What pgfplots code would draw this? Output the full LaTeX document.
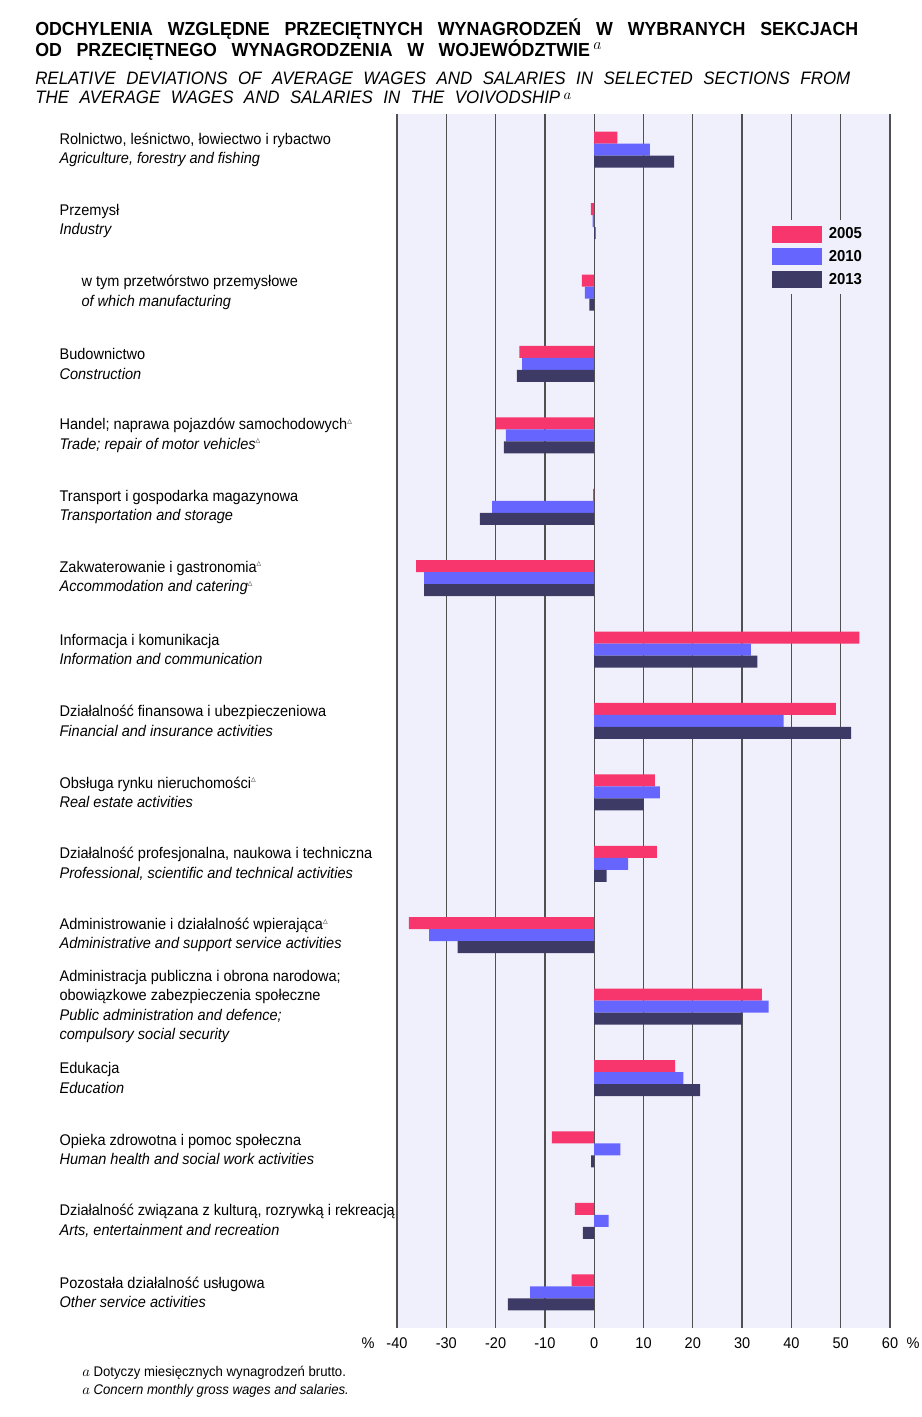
\documentclass[border=0pt]{standalone}
\usepackage{fontspec}
\setmainfont{Liberation Sans}[FakeStretch=0.94]
\newfontfamily\symfont{DejaVu Sans}
\usepackage{pgfplots}
\pgfplotsset{compat=1.18}
\usepackage{pgfplotstable}

\definecolor{c2005}{RGB}{247,54,110}
\definecolor{c2010}{RGB}{102,102,255}
\definecolor{c2013}{RGB}{61,59,102}
\definecolor{bgcol}{RGB}{240,240,252}
\definecolor{gridcol}{RGB}{80,80,80}

\newcommand\tri{\raisebox{0.8ex}{\symfont\fontsize{4.5}{5}\selectfont △}}
\newcommand\lab{\fontsize{11.6}{14.5}\selectfont}
\newcommand\supa[2]{\hspace{2.5pt}\raisebox{#1}{\fontsize{#2}{#2}\selectfont$a$}}

% pos: 16 = top category
\pgfplotstableread{
pos  y2005  y2010  y2013
16     4.7   11.3   16.2
15    -0.7   -0.3    0.3
14    -2.5   -1.9   -1.0
13   -15.2  -14.6  -15.7
12   -20.0  -17.9  -18.3
11    -0.2  -20.7  -23.2
10   -36.1  -34.5  -34.5
9     53.8   31.8   33.1
8     49.0   38.4   52.1
7     12.3   13.3   10.0
6     12.7    6.9    2.5
5    -37.6  -33.5  -27.7
4     34.0   35.4   30.0
3     16.4   18.1   21.5
2     -8.6    5.3   -0.6
1     -3.9    2.9   -2.3
0     -4.6  -13.0  -17.5
}\deviations

\begin{document}
\begin{tikzpicture}[x=1pt,y=1pt]
\useasboundingbox (0,0) rectangle (690.75,1062.75);

% titles
\node[anchor=base west, inner sep=0pt, font=\bfseries\fontsize{14.2}{16}\selectfont]
  at (26.25,1036) {\makebox[617.25pt][s]{ODCHYLENIA WZGLĘDNE PRZECIĘTNYCH WYNAGRODZEŃ W WYBRANYCH SEKCJACH}};
\node[anchor=base west, inner sep=0pt, font=\bfseries\fontsize{14.2}{16}\selectfont]
  at (26.25,1020.5) {\makebox[416pt][s]{OD PRZECIĘTNEGO WYNAGRODZENIA W WOJEWÓDZTWIE}\supa{4.8pt}{12}};
\node[anchor=base west, inner sep=0pt, font=\itshape\fontsize{13.5}{16}\selectfont]
  at (26.25,999) {\makebox[611.25pt][s]{RELATIVE DEVIATIONS OF AVERAGE WAGES AND SALARIES IN SELECTED SECTIONS FROM}};
\node[anchor=base west, inner sep=0pt, font=\itshape\fontsize{13.5}{16}\selectfont]
  at (26.25,985.3) {\makebox[393.75pt][s]{THE AVERAGE WAGES AND SALARIES IN THE VOIVODSHIP}\supa{2.8pt}{10.5}};

\begin{axis}[
  at={(297.75pt,66.75pt)}, anchor=south west,
  scale only axis, width=369.75pt, height=910.5pt,
  xmin=-40, xmax=60, ymin=-0.5, ymax=16.5,
  axis background/.style={fill=bgcol},
  axis line style={draw=none},
  tick style={draw=none},
  xbar, bar width=9pt,
  xtick={-40,-30,...,60},
  xticklabels={-40,-30,-20,-10,0,10,20,30,40,50,60},
  xmajorgrids, major grid style={gridcol, line width=1pt},
  xticklabel style={font=\lab, inner sep=0pt, anchor=north, yshift=-7.1pt},
  ytick={0,...,16},
  yticklabels={
    {Pozostała działalność usługowa\\\textit{Other service activities}},
    {Działalność związana z kulturą, rozrywką i rekreacją\\\textit{Arts, entertainment and recreation}},
    {Opieka zdrowotna i pomoc społeczna\\\textit{Human health and social work activities}},
    {Edukacja\\\textit{Education}},
    {Administracja publiczna i obrona narodowa;\\obowiązkowe zabezpieczenia społeczne\\\textit{Public administration and defence;}\\\textit{compulsory social security}},
    {Administrowanie i działalność wpierająca\tri\\\textit{Administrative and support service activities}},
    {Działalność profesjonalna, naukowa i techniczna\\\textit{Professional, scientific and technical activities}},
    {Obsługa rynku nieruchomości\tri\\\textit{Real estate activities}},
    {Działalność finansowa i ubezpieczeniowa\\\textit{Financial and insurance activities}},
    {Informacja i komunikacja\\\textit{Information and communication}},
    {Zakwaterowanie i gastronomia\tri\\\textit{Accommodation and catering\tri}},
    {Transport i gospodarka magazynowa\\\textit{Transportation and storage}},
    {Handel; naprawa pojazdów samochodowych\tri\\\textit{Trade; repair of motor vehicles\tri}},
    {Budownictwo\\\textit{Construction}},
    {\hspace*{16.5pt}w tym przetwórstwo przemysłowe\\\hspace*{16.5pt}\textit{of which manufacturing}},
    {Przemysł\\\textit{Industry}},
    {Rolnictwo, leśnictwo, łowiectwo i rybactwo\\\textit{Agriculture, forestry and fishing}}
  },
  yticklabel style={font=\lab, anchor=west, align=left, inner sep=0pt, xshift=-249pt},
  legend style={at={(0.7485,0.9127)}, anchor=north west, draw=none, fill=bgcol,
    inner sep=4.3pt, outer sep=0pt, row sep=4.25pt, column sep=5.25pt,
    nodes={inner sep=0pt}, font=\bfseries\fontsize{11.9}{14}\selectfont},
  legend cell align=left,
  legend image code/.code={\fill[#1] (0pt,-6.375pt) rectangle (37.5pt,6.375pt);},
]
\addplot[fill=c2005, draw=none, bar shift=9pt] table[x=y2005, y=pos] {\deviations};
\addplot[fill=c2010, draw=none, bar shift=0pt] table[x=y2010, y=pos] {\deviations};
\addplot[fill=c2013, draw=none, bar shift=-9pt] table[x=y2013, y=pos] {\deviations};
\legend{2005,2010,2013}
\end{axis}

% unit marks at both ends of the value axis
\node[font=\lab, inner sep=0pt] at (276,55.5) {\%};
\node[font=\lab, inner sep=0pt] at (684.75,55.5) {\%};

% footnote
\node[anchor=base west, inner sep=0pt, font=\fontsize{10.5}{13}\selectfont] at (61.5,30)
  {{\normalfont\fontsize{11}{12}\selectfont$a$} Dotyczy miesięcznych wynagrodzeń brutto.};
\node[anchor=base west, inner sep=0pt, font=\fontsize{10.5}{13}\selectfont] at (61.5,16.5)
  {{\normalfont\fontsize{11}{12}\selectfont$a$} \textit{Concern monthly gross wages and salaries.}};
\end{tikzpicture}
\end{document}
